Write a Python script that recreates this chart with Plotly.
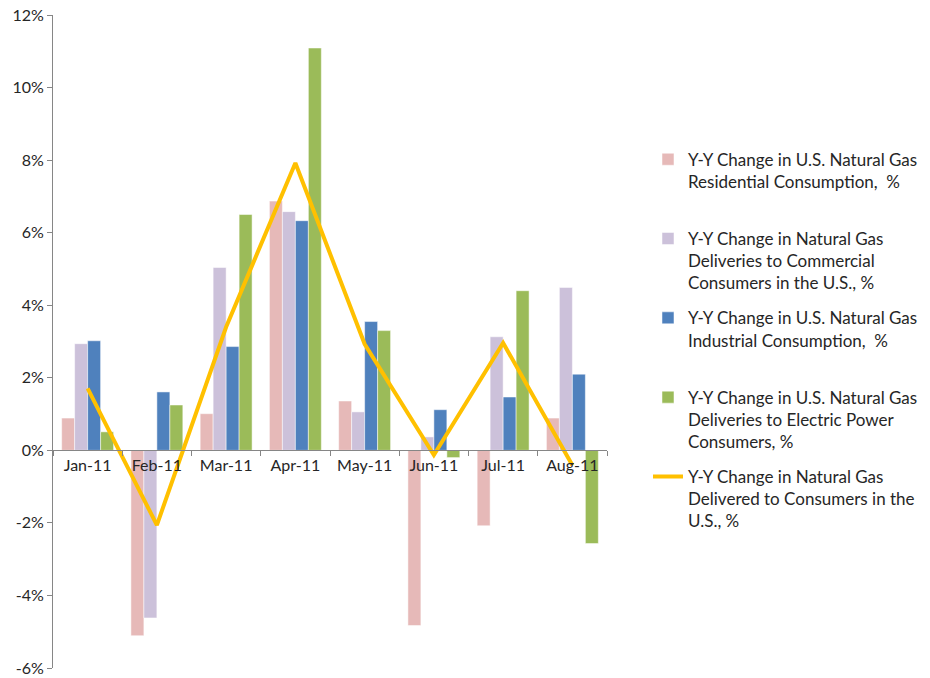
import plotly.graph_objects as go

months = ["Jan-11", "Feb-11", "Mar-11", "Apr-11", "May-11", "Jun-11", "Jul-11", "Aug-11"]

residential = [0.89, -5.11, 1.01, 6.87, 1.36, -4.83, -2.08, 0.89]
commercial = [2.94, -4.62, 5.04, 6.58, 1.06, 0.37, 3.13, 4.49]
industrial = [3.02, 1.61, 2.86, 6.33, 3.55, 1.12, 1.47, 2.10]
electric = [0.51, 1.25, 6.50, 11.09, 3.30, -0.20, 4.40, -2.57]
total = [1.71, -2.06, 3.40, 7.92, 2.93, -0.13, 2.96, -0.41]

y_ticks = [-6, -4, -2, 0, 2, 4, 6, 8, 10, 12]
y_tick_labels = ["-6%", "-4%", "-2%", "0%", "2%", "4%", "6%", "8%", "10%", "12%"]

names = [
    "Y-Y Change in U.S. Natural Gas<br>Residential Consumption,  %<br> ",
    "Y-Y Change in Natural Gas<br>Deliveries to Commercial<br>Consumers in the U.S., %",
    "Y-Y Change in U.S. Natural Gas<br>Industrial Consumption,  %<br> ",
    "Y-Y Change in U.S. Natural Gas<br>Deliveries to Electric Power<br>Consumers, %",
    "Y-Y Change in Natural Gas<br>Delivered to Consumers in the<br>U.S., %",
]
colors = ["#E6B9B8", "#CCC1DA", "#4F81BD", "#9BBB59"]

fig = go.Figure()
series = [residential, commercial, industrial, electric]
for i, (vals, name, col) in enumerate(zip(series, names[:4], colors)):
    fig.add_trace(go.Bar(x=months, y=vals, name=name, marker_color=col,
                         legendgroup=f"g{i}",
                         marker_line=dict(color="white", width=0.5)))

fig.add_trace(go.Scatter(x=months, y=total, name=names[4], mode="lines",
                         legendgroup="g4",
                         line=dict(color="#FFC000", width=4)))

fig.update_layout(
    width=930, height=678,
    margin=dict(l=45, r=331, t=7, b=18),
    plot_bgcolor="white", paper_bgcolor="white",
    barmode="group", bargap=0.25, bargroupgap=0,
    font=dict(family="Lato, Noto Sans, sans-serif", size=16, color="#262626"),
    legend=dict(x=1.074, y=0.806, xanchor="left", yanchor="top",
                font=dict(size=17), tracegroupgap=10, valign="top",
                itemwidth=30),
)

fig.update_xaxes(
    anchor="free", position=1 / 3, automargin=False,
    showline=True, linecolor="#868686", linewidth=1,
    ticks="outside", ticklen=5, tickcolor="#868686", tickson="boundaries",
    showgrid=False, tickfont=dict(size=16),
)
fig.update_yaxes(
    range=[-6, 12], tickvals=y_ticks, ticktext=y_tick_labels, automargin=False,
    ticklabeloverflow="allow",
    showline=True, linecolor="#868686", linewidth=1,
    ticks="outside", ticklen=5, tickcolor="#868686",
    showgrid=False, zeroline=False, tickfont=dict(size=16),
)

fig.write_html("out.html")
